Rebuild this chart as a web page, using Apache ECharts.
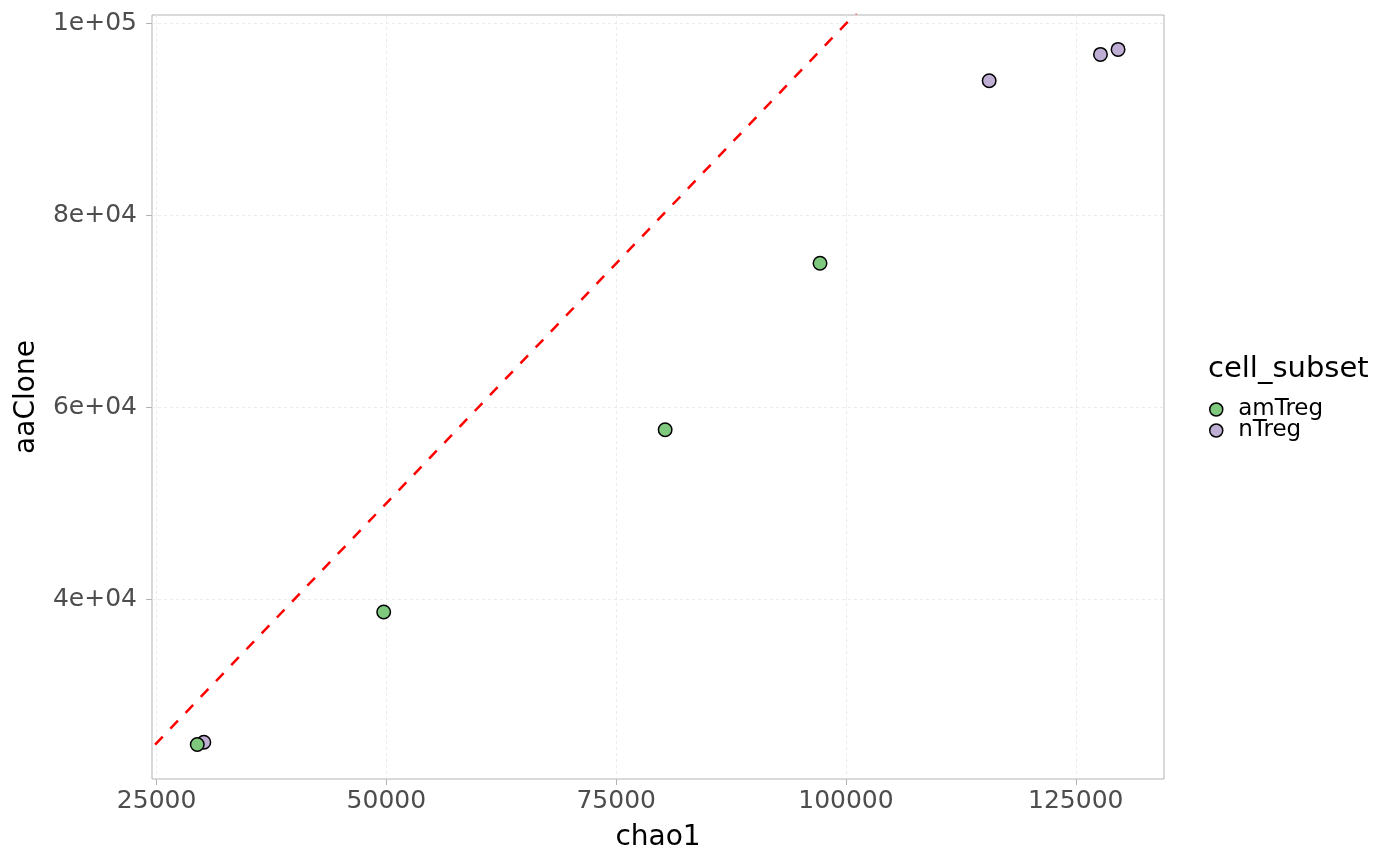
<!DOCTYPE html>
<html>
<head>
<meta charset="utf-8">
<script src="https://cdn.jsdelivr.net/npm/echarts@6/dist/echarts.min.js"></script>
<style>
html,body{margin:0;padding:0;background:#fff;}
#chart{width:1400px;height:866px;}
</style>
</head>
<body>
<div id="chart"></div>
<script>
// ---- data ----
const amTregChao1 = [29424, 49708, 80328, 97177];
const amTregAaClone = [24842, 38665, 57656, 75021];
const nTregChao1 = [30142, 115580, 127689, 129602];
const nTregAaClone = [25082, 94042, 96792, 97313];
const xTicks = [25000, 50000, 75000, 100000, 125000];
const yTicks = [40000, 60000, 80000, 100000];
const refLine = [[0, 0], [150000, 150000]]; // y = x
const xRange = [24500, 134600];
const yRange = [21250, 100900];
const legendNames = ['amTreg', 'nTreg'];
const colors = ['#7fc97f', '#beaed4'];

function sci(v) {
  const e = Math.floor(Math.log10(v) + 1e-9);
  const m = Math.round(v / Math.pow(10, e) * 100) / 100;
  return m + 'e+' + String(e).padStart(2, '0');
}
function zip(a, b) { return a.map((v, i) => [v, b[i]]); }

const FONT = 'DejaVu Sans';
const chart = echarts.init(document.getElementById('chart'));
const gridCol = '#ebebeb';
chart.setOption({
  animation: false,
  backgroundColor: '#ffffff',
  textStyle: { fontFamily: FONT },
  grid: {
    left: 152, top: 15, right: 236, bottom: 87,
    show: true, borderColor: '#b3b3b3', borderWidth: 1, backgroundColor: 'transparent'
  },
  xAxis: {
    type: 'value', min: xRange[0], max: xRange[1],
    name: 'chao1', nameLocation: 'middle', nameGap: 45,
    nameTextStyle: { fontFamily: FONT, fontSize: 28, color: '#000' },
    axisLine: { show: false },
    axisTick: { show: true, length: 6, lineStyle: { color: '#b3b3b3', width: 1 }, customValues: xTicks },
    axisLabel: { fontFamily: FONT, fontSize: 25, color: '#4d4d4d', margin: 10, customValues: xTicks, formatter: v => String(v) },
    splitLine: { show: true, lineStyle: { color: gridCol, type: [3, 3], width: 1 } }
  },
  yAxis: {
    type: 'value', min: yRange[0], max: yRange[1],
    name: 'aaClone', nameLocation: 'middle', nameGap: 111,
    nameTextStyle: { fontFamily: FONT, fontSize: 28, color: '#000' },
    axisLine: { show: false },
    axisTick: { show: true, length: 6, lineStyle: { color: '#b3b3b3', width: 1 }, customValues: yTicks },
    axisLabel: { fontFamily: FONT, fontSize: 25, color: '#4d4d4d', margin: 15, customValues: yTicks, formatter: v => sci(v) },
    splitLine: { show: true, lineStyle: { color: gridCol, type: [3, 3], width: 1 } }
  },
  legend: {
    orient: 'vertical', left: 1209, top: 398,
    data: legendNames, icon: 'circle',
    itemWidth: 34, itemHeight: 13, itemGap: -2,
    padding: 0,
    textStyle: { fontFamily: FONT, fontSize: 23, color: '#000', lineHeight: 21 },
    itemStyle: { borderColor: '#000', borderWidth: 1.5 }
  },
  graphic: [{
    type: 'text', left: 1208, top: 355,
    style: { text: 'cell_subset', font: '29px "DejaVu Sans"', fill: '#000' }
  }],
  series: [
    {
      type: 'line', data: refLine, showSymbol: false, symbol: 'none', silent: true, clip: true,
      lineStyle: { color: '#ff0000', width: 2.5, type: [11, 11] }, z: 1
    },
    {
      name: 'amTreg', type: 'scatter', data: zip(amTregChao1, amTregAaClone), symbolSize: 13.5,
      itemStyle: { color: colors[0], borderColor: '#000', borderWidth: 1.5, opacity: 1 }, z: 3
    },
    {
      name: 'nTreg', type: 'scatter', data: zip(nTregChao1, nTregAaClone), symbolSize: 13.5,
      itemStyle: { color: colors[1], borderColor: '#000', borderWidth: 1.5, opacity: 1 }, z: 2
    }
  ]
});
</script>
</body>
</html>
